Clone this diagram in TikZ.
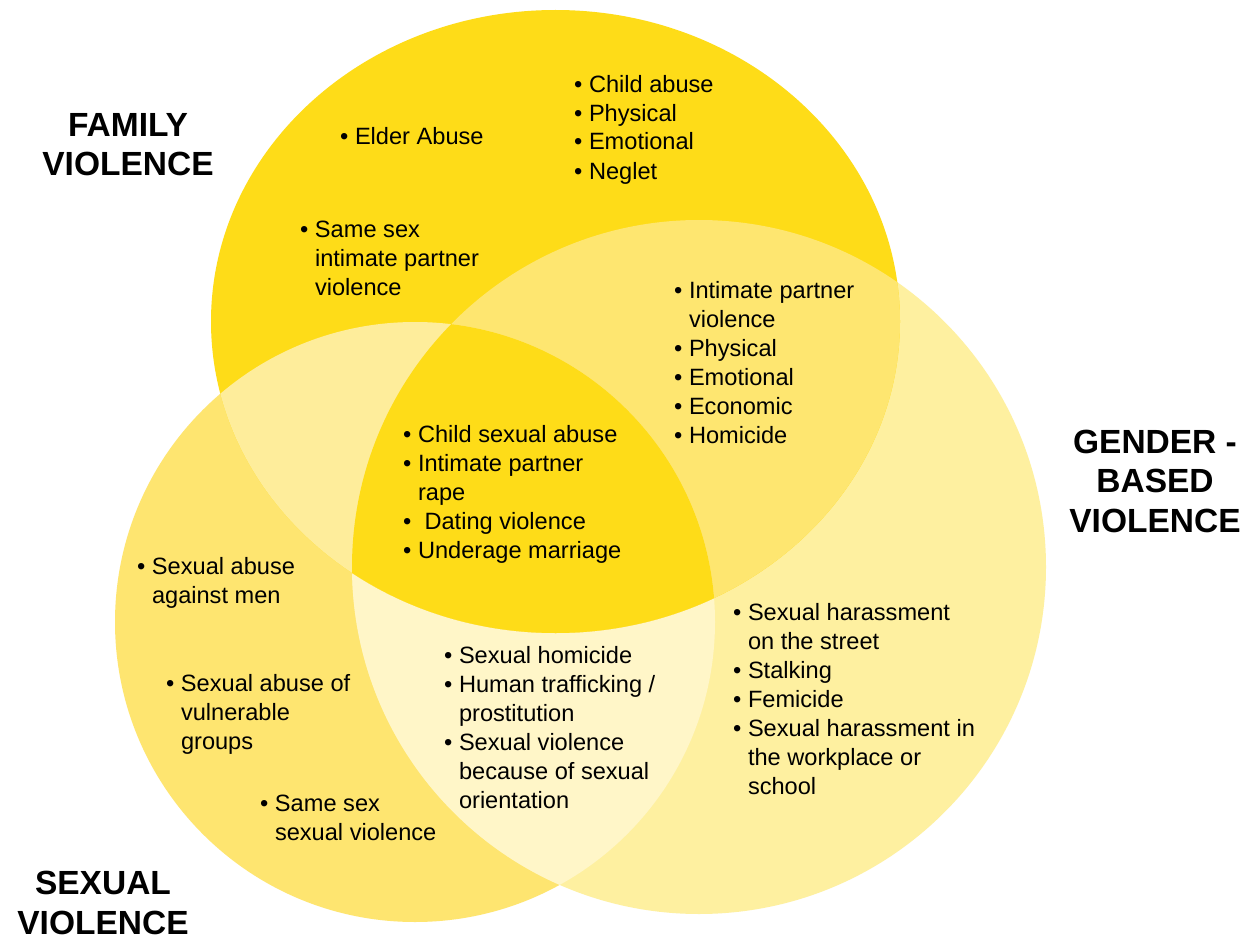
\documentclass[tikz,border=0pt]{standalone}
\usepackage{fontspec}
\setmainfont{Liberation Sans}
\definecolor{topC}{RGB}{254,220,24}
\definecolor{trC}{RGB}{254,230,112}
\definecolor{tlC}{RGB}{254,237,155}
\definecolor{leftC}{RGB}{254,229,112}
\definecolor{rightC}{RGB}{254,240,160}
\definecolor{lrC}{RGB}{255,246,200}
\begin{document}
\begin{tikzpicture}[x=1pt,y=-1pt,
  txt/.style={anchor=base west, inner sep=0pt, align=left, font=\fontsize{23.6}{29}\selectfont},
  lbl/.style={anchor=base, inner sep=0pt, align=center, font=\bfseries\fontsize{33.5}{39.5}\selectfont}]
\def\topshape{(555.5,321.5) ellipse [x radius=344.5pt, y radius=311.5pt]}
\def\leftshape{(415,622) circle [radius=300pt]}
\def\rightshape{(699,567) circle [radius=347pt]}
\def\cont{\hphantom{\textbullet\ }}
\fill[white] (0,0) rectangle (1251,939);
\useasboundingbox (0,0) rectangle (1251,939);
% base fills
\fill[leftC] \leftshape;
\fill[rightC] \rightshape;
\begin{scope}
  \clip \leftshape;
  \fill[lrC] \rightshape;
\end{scope}
\fill[topC] \topshape;
\begin{scope}
  \clip \topshape;
  \fill[trC] \rightshape;
  \fill[tlC] \leftshape;
\end{scope}
\begin{scope}
  \clip \topshape;
  \clip \leftshape;
  \fill[topC] \rightshape;
\end{scope}
% labels (anchor = baseline of last line)
\node[lbl] (fam) at (128,175.5) {FAMILY\\VIOLENCE};
\node[lbl] (gen) at (1155,532) {GENDER -\\BASED\\VIOLENCE};
\node[lbl] (sex) at (103,934) {SEXUAL\\VIOLENCE};
% texts (anchor = baseline of last line)
\node[txt] (elder) at (340,145) {\textbullet\ Elder Abuse};
\node[txt] (child) at (574,179) {\textbullet\ Child abuse\\\textbullet\ Physical\\\textbullet\ Emotional\\\textbullet\ Neglet};
\node[txt] (samesexipv) at (300,295) {\textbullet\ Same sex\\\cont intimate partner\\\cont violence};
\node[txt] (ipv) at (674,443) {\textbullet\ Intimate partner\\\cont violence\\\textbullet\ Physical\\\textbullet\ Emotional\\\textbullet\ Economic\\\textbullet\ Homicide};
\node[txt] (center) at (403,558) {\textbullet\ Child sexual abuse\\\textbullet\ Intimate partner\\\cont rape\\\textbullet\ \ Dating violence\\\textbullet\ Underage marriage};
\node[txt] (men) at (137,603) {\textbullet\ Sexual abuse\\\cont against men};
\node[txt] (vuln) at (166,749) {\textbullet\ Sexual abuse of\\\cont vulnerable\\\cont groups};
\node[txt] (samesexsv) at (260,840) {\textbullet\ Same sex\\\cont sexual violence};
\node[txt] (homicide) at (444,808) {\textbullet\ Sexual homicide\\\textbullet\ Human trafficking /\\\cont prostitution\\\textbullet\ Sexual violence\\\cont because of sexual\\\cont orientation};
\node[txt] (harass) at (733,794) {\textbullet\ Sexual harassment\\\cont on the street\\\textbullet\ Stalking\\\textbullet\ Femicide\\\textbullet\ Sexual harassment in\\\cont the workplace or\\\cont school};
\end{tikzpicture}
\end{document}
